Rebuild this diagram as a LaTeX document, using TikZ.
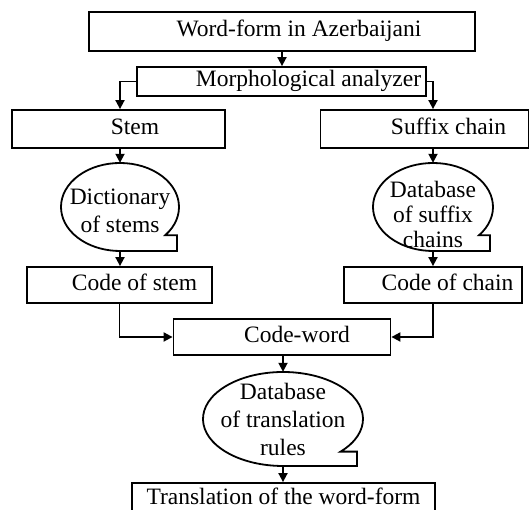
\documentclass[tikz,border=0pt]{standalone}
\usepackage{fontspec}
\setmainfont{Liberation Serif}
\usetikzlibrary{arrows.meta}

\tikzset{
  blk/.style={draw, line width=1.8pt, inner sep=0pt},
  tape/.style={inner sep=0pt},
  txt/.style={inner sep=0pt, text height=16pt, text depth=5pt},
  arr/.style={line width=1.8pt, -{Triangle[length=9pt,width=9pt]}},
  line/.style={line width=1.8pt, line join=miter}
}

\begin{document}
\begin{tikzpicture}[x=1pt, y=1pt, font=\fontsize{23.5}{28}\selectfont]
\useasboundingbox (0,0) rectangle (531,510);

% boxes
\node[blk, minimum width=386, minimum height=39, label={[txt, xshift=17]center:Word-form in Azerbaijani}] (wf) at (282,478.5) {};
\node[blk, minimum width=289, minimum height=29, label={[txt, xshift=27]center:Morphological analyzer}] (morph) at (281.5,428.5) {};
\node[blk, minimum width=213, minimum height=38, label={[txt, xshift=16.5]center:Stem}] (stem) at (118.5,381) {};
\node[blk, minimum width=208, minimum height=38, label={[txt, xshift=24]center:Suffix chain}] (suffix) at (424.5,381) {};
\node[blk, minimum width=185, minimum height=36, label={[txt, xshift=15]center:Code of stem}] (cstem) at (119.5,225) {};
\node[blk, minimum width=178, minimum height=36, label={[txt, xshift=14.5]center:Code of chain}] (cchain) at (433,225) {};
\node[blk, minimum width=217, minimum height=36, label={[txt, xshift=15]center:Code-word}] (cword) at (282,173) {};
\node[blk, minimum width=303, minimum height=37, label={[txt, text depth=0pt, yshift=4.5]center:Translation of the word-form}] (trans) at (283.5,8.5) {};

% stores
\node[tape, minimum width=118, minimum height=88, label={[yshift=-4, align=center]center:Dictionary\\of stems}] (dict) at (120,303) {};
\node[tape, minimum width=120, minimum height=88, label={[yshift=-7, align=center, font=\fontsize{23.5}{25}\selectfont]center:Database\\of suffix\\chains}] (sfx) at (433,303) {};
\node[tape, minimum width=160, minimum height=94, label={[align=center]center:Database\\of translation\\rules}] (rules) at (283,91) {};

\draw[line] ([shift={(-40:59 and 44)}]dict.center) coordinate (d1) arc[start angle=-40, end angle=270, x radius=59, y radius=44] -- ++(57,0) |- (d1) -- cycle;
\draw[line] ([shift={(-40:60 and 44)}]sfx.center) coordinate (s1) arc[start angle=-40, end angle=270, x radius=60, y radius=44] -- ++(57,0) |- (s1) -- cycle;
\draw[line] ([shift={(-44:80 and 47)}]rules.center) coordinate (r1) arc[start angle=-44, end angle=270, x radius=80, y radius=47] -- ++(74,0) |- (r1) -- cycle;

% arrows
\draw[arr] (wf.south) -- (wf.south |- morph.north);
\draw[arr] (morph.west) -| (dict |- stem.north);
\draw[arr] (morph.east) -| (sfx |- suffix.north);
\draw[arr] (dict |- stem.south) -- (dict.north);
\draw[arr] (dict.south) -- (dict |- cstem.north);
\draw[arr] (sfx |- suffix.south) -- (sfx.north);
\draw[arr] (sfx.south) -- (sfx |- cchain.north);
\draw[arr] (cstem.south) |- (cword.west);
\draw[arr] (cchain.south) |- (cword.east);
\draw[arr] (rules |- cword.south) -- (rules.north);
\draw[arr] (rules.south) -- (rules |- trans.north);
\end{tikzpicture}
\end{document}
